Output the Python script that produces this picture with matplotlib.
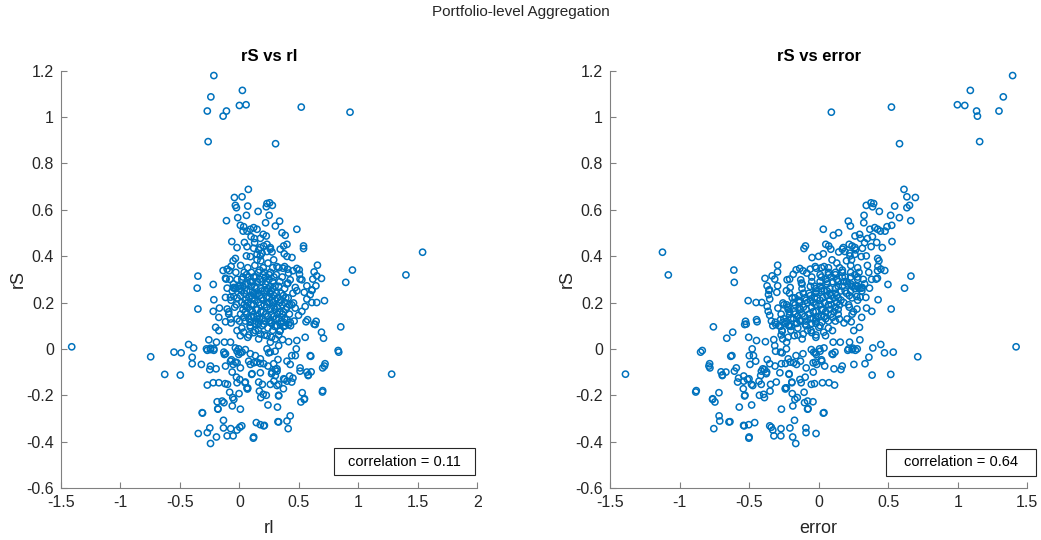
import numpy as np
import matplotlib.pyplot as plt
from matplotlib.patches import Rectangle

# (rI, rS) pairs, grouped by region
high_pts = np.array([
    (-0.215, 1.179), (0.025, 1.115), (-0.24, 1.087), (-0.27, 1.026), (-0.109, 1.026),
    (-0.137, 1.004), (0.0, 1.05), (0.056, 1.053), (0.52, 1.043), (0.93, 1.021),
    (-0.263, 0.894), (0.304, 0.885),
])

side_pts = np.array([
    (1.54, 0.417), (1.40, 0.319), (1.28, -0.109), (0.95, 0.34), (0.894, 0.287),
    (0.852, 0.095), (0.83, -0.007), (0.835, -0.014), (-1.41, 0.009), (-0.746, -0.034),
    (-0.628, -0.11), (-0.55, -0.014), (-0.49, -0.017), (-0.497, -0.113), (-0.427, 0.019),
    (-0.385, 0.004), (-0.397, -0.036), (-0.397, -0.064),
])

bottom_pts = np.array([
    (-0.349, 0.314), (-0.355, 0.262), (-0.349, 0.172), (-0.346, -0.365), (-0.31, -0.277),
    (-0.32, -0.067), (-0.27, -0.361), (-0.249, -0.341), (-0.243, -0.408), (-0.193, -0.380),
    (-0.134, -0.341), (-0.134, -0.308), (-0.103, -0.375), (-0.073, -0.344), (-0.053, -0.375),
    (-0.02, -0.35), (0.003, -0.338), (0.02, -0.332), (0.117, -0.385), (0.142, -0.318),
    (0.204, -0.332), (0.324, -0.314), (0.41, -0.344), (0.40, -0.311), (0.427, -0.289),
    (0.176, -0.327), (0.21, -0.33), (0.12, -0.38), (0.33, -0.315),
])

lower_pts = np.array([
    (0.24, -0.242), (0.32, -0.251), (0.33, -0.203), (0.528, -0.189), (0.545, -0.218),
    (0.517, -0.229), (0.698, -0.186), (0.70, -0.082), (0.715, -0.074), (0.60, -0.032),
    (0.44, -0.029), (0.51, -0.082), (0.51, -0.096), (0.578, -0.115), (0.603, -0.099),
    (0.427, -0.067), (0.40, -0.053), (0.38, -0.132), (0.40, -0.139), (0.44, -0.143),
    (0.37, -0.172), (0.33, -0.153), (0.26, -0.153), (0.29, -0.139), (0.18, -0.21),
    (0.2, -0.196), (0.168, -0.182), (0.067, -0.173), (0.008, -0.26), (-0.003, -0.193),
    (-0.056, -0.21), (-0.047, -0.218), (-0.06, -0.246), (-0.13, -0.232), (-0.145, -0.225),
    (-0.187, -0.228), (-0.18, -0.26), (-0.22, -0.146), (-0.173, -0.146), (-0.27, -0.156),
    (-0.12, -0.15), (-0.10, -0.153), (-0.02, -0.146), (0.003, -0.132), (0.047, -0.146),
    (0.064, -0.168), (0.103, -0.11), (0.176, -0.103), (0.162, -0.143), (0.24, -0.074),
    (0.30, -0.089), (0.27, -0.107), (0.324, -0.046), (0.316, -0.096), (0.078, -0.053),
    (0.092, -0.067), (0.12, -0.06), (0.176, -0.063), (-0.075, -0.053), (-0.053, -0.067),
    (-0.02, -0.06), (0.008, -0.082), (-0.243, -0.074), (-0.249, -0.089), (-0.196, -0.086),
    (-0.117, -0.074), (-0.27, -0.006), (-0.243, -0.003), (-0.215, -0.006), (-0.126, -0.024),
    (0.008, -0.017), (-0.006, -0.024), (0.05, -0.003), (0.246, -0.017), (0.30, -0.01),
    (-0.02, -0.01), (-0.034, 0.004), (-0.117, -0.021), (-0.067, -0.047), (-0.034, -0.057),
    (-0.061, -0.1), (-0.025, -0.122), (0.05, -0.143), (0.07, -0.169), (0.106, -0.107),
    (0.193, -0.153), (0.226, -0.2), (0.148, -0.057), (0.204, -0.064), (0.288, -0.064),
    (0.316, -0.086), (0.274, -0.1), (0.302, -0.115), (0.372, -0.129), (0.422, -0.117),
    (0.45, -0.126), (0.316, -0.158), (0.33, -0.2), (0.567, -0.1), (0.58, -0.112),
    (0.547, -0.215), (0.7, -0.18), (0.72, -0.064), (0.483, 0.036), (0.553, 0.05),
    (0.478, 0.0), (0.47, -0.029), (0.595, -0.029), (0.363, 0.04), (0.414, 0.031),
    (0.69, 0.072), (0.707, 0.046), (0.56, 0.117), (0.573, 0.126), (0.628, 0.107),
    (-0.082, -0.187), (-0.313, -0.275), (-0.182, -0.258), (0.092, -0.021), (0.134, -0.029),
    (0.176, -0.043), (0.232, 0.0), (0.26, -0.014), (0.022, -0.014),
])

mid_pts = np.array([
    (-0.22, 0.162), (-0.173, 0.136), (-0.103, 0.172), (-0.09, 0.15), (-0.2, 0.093),
    (-0.173, 0.079), (-0.117, 0.117), (-0.07, 0.112), (-0.257, 0.039), (-0.215, 0.0),
    (-0.277, 0.0), (-0.243, 0.003), (-0.193, 0.029), (-0.131, -0.014), (-0.126, 0.029),
    (-0.075, 0.029), (-0.006, 0.0), (-0.02, 0.079), (0.008, 0.057), (0.036, 0.072),
    (0.07, 0.05), (0.092, 0.093), (0.134, 0.079), (0.176, 0.064), (0.162, 0.043),
    (0.232, 0.057), (0.26, 0.029), (0.302, 0.043), (0.33, 0.014), (0.343, 0.079),
    (0.385, 0.1), (0.427, 0.115), (-0.075, 0.129), (-0.02, 0.129), (0.036, 0.136),
    (0.092, 0.115), (0.148, 0.129), (0.204, 0.107), (0.26, 0.122), (0.316, 0.1),
    (0.372, 0.115), (0.637, 0.105), (0.645, 0.119), (0.413, 0.105), (0.4, 0.126),
    (0.372, 0.097), (0.338, 0.076), (0.35, 0.119), (0.296, 0.097), (0.268, 0.112),
    (-0.215, 0.212), (-0.168, 0.176), (-0.117, 0.222), (-0.103, 0.262), (-0.075, 0.223),
    (-0.047, 0.262), (-0.047, 0.226), (-0.025, 0.19), (-0.22, 0.278), (-0.112, 0.301),
    (-0.048, 0.265), (0.008, 0.272),
])

upper_pts = np.array([
    (0.075, 0.688), (-0.042, 0.653), (0.022, 0.656), (-0.034, 0.619), (-0.025, 0.609),
    (0.07, 0.616), (-0.109, 0.553), (-0.014, 0.566), (0.059, 0.576), (0.157, 0.593),
    (0.232, 0.627), (0.254, 0.63), (0.277, 0.619), (0.226, 0.613), (0.25, 0.576),
    (0.008, 0.533), (0.036, 0.527), (0.031, 0.508), (0.064, 0.508), (0.092, 0.516),
    (0.12, 0.523), (0.148, 0.516), (0.2, 0.494), (0.226, 0.487), (0.22, 0.544),
    (0.302, 0.53), (0.338, 0.551), (0.358, 0.501), (0.385, 0.49), (0.483, 0.516),
    (0.4, 0.451), (-0.064, 0.463), (-0.02, 0.437), (0.042, 0.459), (0.098, 0.484),
    (0.126, 0.476), (0.176, 0.437), (0.204, 0.444), (0.232, 0.451), (0.26, 0.437),
    (0.274, 0.418), (0.148, 0.408), (0.176, 0.401), (0.059, 0.401), (-0.034, 0.39),
    (-0.053, 0.38), (-0.103, 0.344), (-0.086, 0.337), (-0.07, 0.356), (-0.137, 0.338),
    (-0.117, 0.305), (0.372, 0.444), (0.343, 0.43), (0.377, 0.41), (0.4, 0.399),
    (0.442, 0.394), (0.539, 0.444), (0.539, 0.433), (0.483, 0.347), (0.505, 0.322),
    (0.51, 0.301), (0.405, 0.344), (0.45, 0.337), (0.628, 0.332), (0.65, 0.315),
    (0.617, 0.301), (0.656, 0.361), (0.69, 0.304), (0.643, 0.272), (0.567, 0.272),
    (0.609, 0.255), (0.545, 0.244), (0.47, 0.265), (0.483, 0.251), (0.65, 0.2),
    (0.715, 0.208), (0.567, 0.215), (0.609, 0.2), (0.61, 0.252), (0.595, 0.234),
    (0.553, 0.183), (0.525, 0.162), (0.497, 0.145), (0.469, 0.176), (0.455, 0.198),
    (0.525, 0.298), (0.503, 0.341), (0.413, 0.327), (0.427, 0.298), (0.408, 0.284),
    (0.38, 0.355), (0.366, 0.348), (0.12, 0.434), (0.162, 0.427), (0.19, 0.413),
    (0.232, 0.42), (0.26, 0.43), (0.176, 0.477), (0.128, 0.458), (0.064, 0.441),
    (0.092, 0.398), (0.148, 0.384), (0.288, 0.384), (0.316, 0.355),
])

core_pts = np.array([
    (0.02, 0.30), (0.05, 0.28), (0.08, 0.31), (0.10, 0.27), (0.12, 0.24),
    (0.15, 0.29), (0.18, 0.26), (0.20, 0.32), (0.22, 0.28), (0.25, 0.30),
    (0.27, 0.25), (0.30, 0.27), (0.32, 0.22), (0.35, 0.24), (0.38, 0.20),
    (0.40, 0.18), (0.36, 0.15), (0.33, 0.13), (0.30, 0.17), (0.28, 0.20),
    (0.25, 0.22), (0.23, 0.18), (0.20, 0.21), (0.18, 0.16), (0.16, 0.20),
    (0.14, 0.17), (0.12, 0.14), (0.10, 0.19), (0.08, 0.22), (0.06, 0.18),
    (0.04, 0.24), (0.02, 0.20), (0.00, 0.26), (-0.02, 0.22), (-0.05, 0.28),
    (-0.08, 0.30), (-0.04, 0.18), (0.01, 0.15), (0.05, 0.12), (0.09, 0.10),
    (0.13, 0.11), (0.17, 0.13), (0.21, 0.12), (0.24, 0.14), (0.27, 0.11),
    (0.31, 0.10), (0.35, 0.11), (0.38, 0.13), (0.42, 0.15), (0.44, 0.19),
    (0.41, 0.22), (0.38, 0.26), (0.34, 0.29), (0.31, 0.32), (0.28, 0.35),
    (0.24, 0.37), (0.20, 0.35), (0.16, 0.33), (0.13, 0.36), (0.10, 0.33),
    (0.07, 0.35), (0.04, 0.33), (0.01, 0.36), (-0.03, 0.33), (-0.06, 0.25),
    (0.11, 0.29), (0.14, 0.26), (0.19, 0.29), (0.23, 0.25), (0.26, 0.27),
    (0.09, 0.25), (0.07, 0.28), (0.13, 0.21), (0.17, 0.23), (0.21, 0.19),
    (0.26, 0.17), (0.29, 0.14), (0.32, 0.18), (0.15, 0.14), (0.11, 0.16),
    (0.06, 0.15), (0.03, 0.17), (0.19, 0.10), (0.24, 0.09), (0.28, 0.08),
    (0.16, 0.08), (0.12, 0.07), (0.34, 0.20), (0.37, 0.23), (0.29, 0.23),
    (0.22, 0.31), (0.18, 0.38), (0.26, 0.33), (0.33, 0.35), (0.14, 0.31),
    (0.05, 0.21), (0.00, 0.12), (-0.02, 0.30), (0.36, 0.31), (0.40, 0.28),
    (0.43, 0.10), (0.46, 0.12), (-0.07, 0.21), (-0.09, 0.16), (0.02, 0.09),
    (0.08, 0.06), (0.27, 0.05), (0.33, 0.06), (0.21, 0.06), (0.45, 0.24),
])

# extra points filling the densest part of the blob
dense_pts = np.array([
    (0.03, 0.27), (0.06, 0.25), (0.09, 0.29), (0.11, 0.22), (0.13, 0.27),
    (0.16, 0.24), (0.17, 0.30), (0.19, 0.22), (0.21, 0.25), (0.23, 0.29),
    (0.24, 0.20), (0.26, 0.24), (0.28, 0.29), (0.29, 0.18), (0.31, 0.24),
    (0.33, 0.27), (0.34, 0.16), (0.36, 0.19), (0.39, 0.17), (0.31, 0.13),
    (0.27, 0.15), (0.22, 0.15), (0.19, 0.13), (0.15, 0.17), (0.14, 0.12),
    (0.10, 0.14), (0.07, 0.20), (0.04, 0.19), (0.01, 0.23), (-0.01, 0.27),
    (0.03, 0.31), (0.06, 0.32), (0.12, 0.31), (0.17, 0.34), (0.21, 0.33),
    (0.25, 0.32), (0.29, 0.31), (0.12, 0.19), (0.18, 0.19), (0.23, 0.22),
    (0.27, 0.21), (0.30, 0.21), (0.35, 0.21), (0.37, 0.16), (0.32, 0.15),
    (0.25, 0.12), (0.20, 0.16), (0.16, 0.11), (0.09, 0.17), (0.05, 0.16),
    (0.08, 0.13), (0.14, 0.23), (0.19, 0.25), (0.24, 0.26), (0.28, 0.26),
    (0.10, 0.23), (0.02, 0.25), (-0.03, 0.26), (0.39, 0.22), (0.42, 0.19),
])

corr_labels = ['correlation = 0.11', 'correlation = 0.64']
ytick_vals = [-0.6, -0.4, -0.2, 0, 0.2, 0.4, 0.6, 0.8, 1, 1.2]

pts = np.vstack([high_pts, side_pts, bottom_pts, lower_pts, mid_pts,
                 upper_pts, core_pts, dense_pts])
rI = pts[:, 0]
rS = pts[:, 1]
error = rS - rI

plt.rcParams['font.family'] = ['Liberation Sans', 'DejaVu Sans']

fig = plt.figure(figsize=(10.41, 5.40), dpi=100)
ax1 = fig.add_axes([0.0586, 0.0963, 0.3999, 0.7728])
ax2 = fig.add_axes([0.5860, 0.0963, 0.4009, 0.7728])

blue = '#0072BD'
axis_col = '#808080'
text_col = '#262626'

panels = [
    (ax1, rI, 'rI', 'rS vs rI', (-1.5, 2), [-1.5, -1, -0.5, 0, 0.5, 1, 1.5, 2]),
    (ax2, error, 'error', 'rS vs error', (-1.5, 1.5), [-1.5, -1, -0.5, 0, 0.5, 1, 1.5]),
]

for ax, xs, xlab, title, xlim, xticks in panels:
    ax.scatter(xs, rS, s=20, facecolors='none', edgecolors=blue, linewidths=1.1)
    ax.set_xlim(*xlim)
    ax.set_ylim(-0.6, 1.2)
    ax.set_xticks(xticks)
    ax.set_xticklabels(['%g' % t for t in xticks])
    ax.set_yticks(ytick_vals)
    ax.set_yticklabels(['%g' % t for t in ytick_vals])
    for s in ['top', 'right']:
        ax.spines[s].set_visible(False)
    for s in ['left', 'bottom']:
        ax.spines[s].set_color(axis_col)
        ax.spines[s].set_linewidth(0.8)
    ax.tick_params(direction='in', length=4, width=0.8, color=axis_col,
                   labelcolor=text_col, labelsize=11.5, pad=5)
    ax.set_xlabel(xlab, fontsize=13, color=text_col, labelpad=7)
    ax.set_ylabel('rS', fontsize=13, color=text_col, labelpad=0)
    ax.set_title(title, fontsize=12, fontweight='bold', color='black', pad=7)

fig.text(0.5, 1 - 12 / 540, 'Portfolio-level Aggregation', ha='center', va='center',
         fontsize=11, color=text_col)

# correlation boxes (figure pixel positions)
W, H = 1041, 540
boxes = [(334, 448, 141, 27), (886, 449, 150, 27)]
for (bx, by, bw, bh), lab in zip(boxes, corr_labels):
    fig.add_artist(Rectangle((bx / W, 1 - (by + bh) / H), bw / W, bh / H,
                             transform=fig.transFigure, fill=False,
                             edgecolor=text_col, linewidth=0.8))
    fig.text((bx + bw / 2) / W, 1 - (by + bh / 2) / H, lab, ha='center', va='center',
             fontsize=10.5, color='black')

fig.savefig('out.png', dpi=100)
